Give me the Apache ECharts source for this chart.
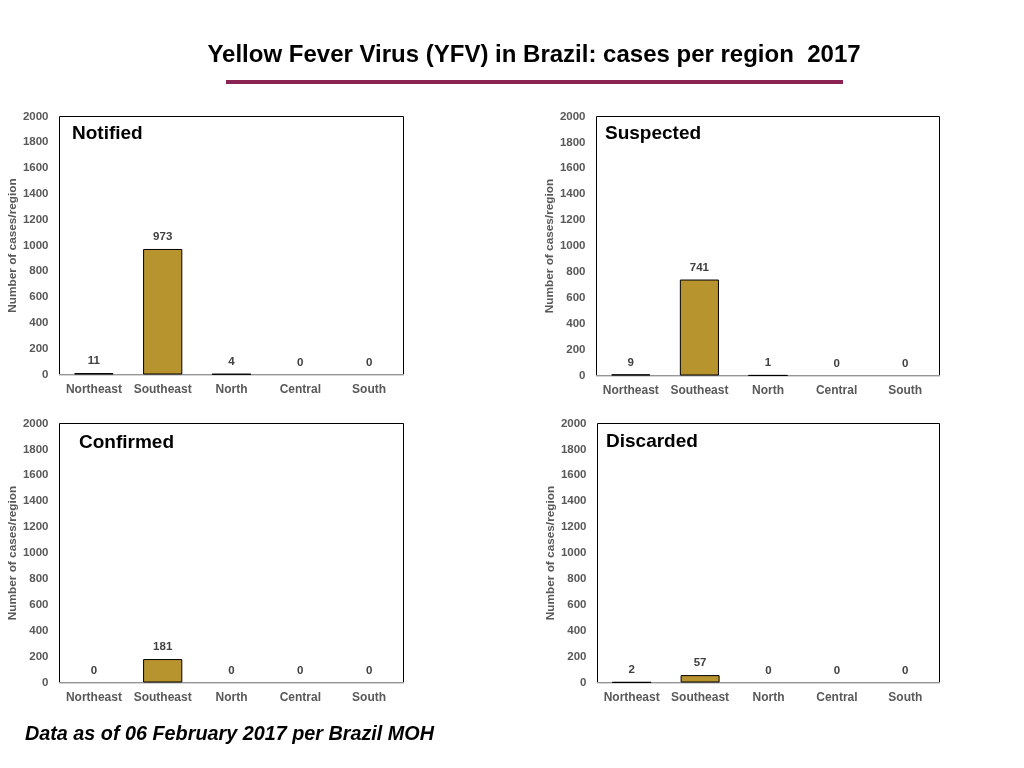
<!DOCTYPE html>
<html>
<head>
<meta charset="utf-8">
<script src="https://cdn.jsdelivr.net/npm/echarts@6/dist/echarts.min.js"></script>
<style>
html,body{margin:0;padding:0;background:#fff;}
#c{width:1024px;height:768px;}
</style>
</head>
<body>
<div id="c"></div>
<script>
const categories = ['Northeast', 'Southeast', 'North', 'Central', 'South'];
const notified = [11, 973, 4, 0, 0];
const suspected = [9, 741, 1, 0, 0];
const confirmed = [0, 181, 0, 0, 0];
const discarded = [2, 57, 0, 0, 0];
const panelTitles = ['Notified', 'Suspected', 'Confirmed', 'Discarded'];

const seriesData = [notified, suspected, confirmed, discarded];
const grids = [
  {left: 59.5, top: 116.5, width: 344, height: 258},
  {left: 596.5, top: 116.5, width: 343, height: 259},
  {left: 59.5, top: 423.5, width: 344, height: 259},
  {left: 597.5, top: 423.5, width: 342, height: 259}
];
const titlePos = [[72, 124], [605, 124], [79, 433], [606, 432]];

const chart = echarts.init(document.getElementById('c'));
const labelColor = '#595959';
const option = {
  backgroundColor: '#fff',
  animation: false,
  title: [
    {text: 'Yellow Fever Virus (YFV) in Brazil: cases per region  2017', left: 534, top: 43, textAlign: 'center', padding: 0,
     textStyle: {fontFamily: 'Liberation Sans Narrow, Liberation Sans, Arial', fontWeight: 'bold', fontSize: 24, color: '#000'}},
    {text: 'Data as of 06 February 2017 per Brazil MOH', left: 25, top: 725, padding: 0,
     textStyle: {fontFamily: 'Liberation Sans, Arial', fontWeight: 'bold', fontStyle: 'italic', fontSize: 19.8, color: '#000'}}
  ].concat(panelTitles.map((t, i) => ({
    text: t, left: titlePos[i][0], top: titlePos[i][1], padding: 0,
    textStyle: {fontFamily: 'Liberation Sans, Arial', fontWeight: 'bold', fontSize: 19, color: '#000'}
  }))),
  graphic: [
    {type: 'rect', shape: {x: 226, y: 80, width: 617, height: 4}, style: {fill: '#8B2452'}}
  ],
  grid: grids.map(g => Object.assign({show: true, borderColor: '#000', borderWidth: 1, backgroundColor: 'transparent'}, g)),
  xAxis: grids.map((g, i) => ({
    type: 'category', gridIndex: i, data: categories,
    axisLine: {show: true, lineStyle: {color: '#c8c8c8', width: 1.5}},
    axisTick: {show: false},
    axisLabel: {interval: 0, color: labelColor, fontFamily: 'Liberation Sans, Arial', fontWeight: 'bold', fontSize: 12, margin: 9}
  })),
  yAxis: grids.map((g, i) => ({
    type: 'value', gridIndex: i, min: 0, max: 2000, interval: 200,
    name: 'Number of cases/region', nameLocation: 'middle', nameRotate: 90, nameGap: 41,
    nameTextStyle: {color: labelColor, fontFamily: 'Liberation Sans, Arial', fontWeight: 'bold', fontSize: 11.8},
    axisLine: {show: false}, axisTick: {show: false},
    splitLine: {show: false},
    axisLabel: {color: labelColor, fontFamily: 'Liberation Sans, Arial', fontWeight: 'bold', fontSize: 11.5, margin: 11,
      formatter: v => String(v)}
  })),
  series: seriesData.map((d, i) => ({
    type: 'bar', xAxisIndex: i, yAxisIndex: i, barWidth: '57%',
    data: d.map(v => ({value: v, itemStyle: v === 0 ? {borderWidth: 0} : {}})),
    itemStyle: {color: '#B8942F', borderColor: '#000', borderWidth: 1},
    label: {show: true, position: 'top', distance: 6, color: '#404040', fontFamily: 'Liberation Sans, Arial', fontWeight: 'bold', fontSize: 11.5}
  }))
};
chart.setOption(option);
</script>
</body>
</html>
